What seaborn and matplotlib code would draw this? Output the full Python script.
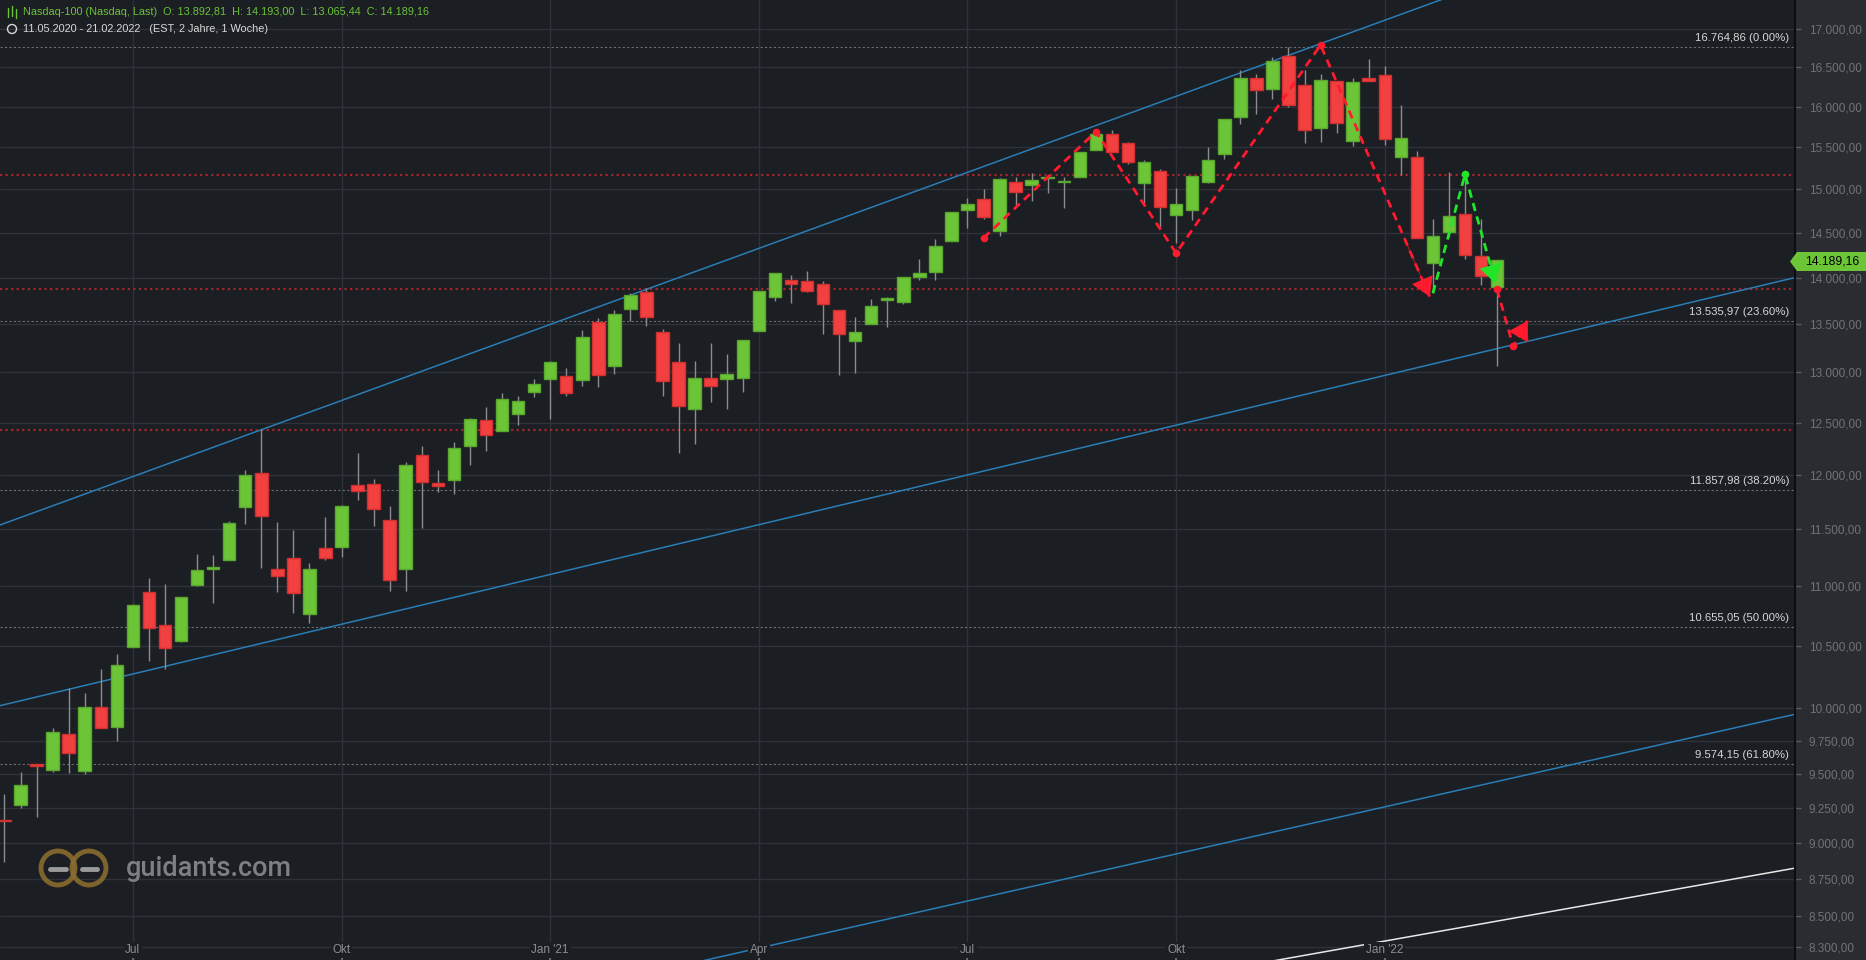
import numpy as np
import pandas as pd
import seaborn as sns
import matplotlib.pyplot as plt
from matplotlib.ticker import FixedLocator, FuncFormatter, NullLocator
from matplotlib.patches import Polygon, Ellipse
from matplotlib.lines import Line2D
import matplotlib.transforms as mtransforms

# weekly Nasdaq-100 candles, 11.05.2020 - 21.02.2022
opens = [9165, 9273, 9571, 9527, 9801, 9519, 10007, 9851, 10488, 10948,
         10668, 10542, 11013, 11150, 11231, 11698, 12014, 11145, 11248, 10767,
         11329, 11344, 11902, 11911, 11581, 11150, 12192, 11920, 11954, 12273,
         12522, 12421, 12587, 12804, 12936, 12960, 12920, 13519, 13068, 13662,
         13838, 13413, 13103, 12630, 12940, 12936, 12946, 13430, 13790, 13969,
         13958, 13926, 13646, 13326, 13504, 13757, 13736, 14002, 14057, 14401,
         14753, 14882, 14515, 15088, 15046, 15135, 15084, 15139, 15462, 15656,
         15547, 15069, 15210, 14706, 14764, 15088, 15414, 15874, 16357, 16223,
         16640, 16267, 15736, 16318, 15572, 16357, 16396, 15377, 15377, 14155,
         14504, 14717, 14232, 13892.81]
highs = [9348, 9514, 9571, 9843, 10155, 10116, 10308, 10430, 10844, 11070,
         11019, 10905, 11280, 11268, 11575, 12045, 12442, 11566, 11494, 11205,
         11610, 11718, 12204, 11961, 11709, 12120, 12270, 12045, 12307, 12545,
         12652, 12790, 12760, 12933, 13116, 13045, 13438, 13560, 13648, 13830,
         13882, 13447, 13299, 13116, 13299, 13187, 13330, 13849, 14046, 14027,
         14071, 13958, 13646, 13575, 13769, 13787, 14002, 14202, 14427, 14741,
         14897, 15002, 15128, 15143, 15190, 15170, 15147, 15438, 15656, 15709,
         15563, 15351, 15237, 15014, 15151, 15502, 15852, 16464, 16412, 16627,
         16765, 16464, 16412, 16318, 16357, 16602, 16515, 16020, 15449, 14654,
         15202, 15108, 14654, 14193.00]
lows = [8869, 9249, 9186, 9516, 9504, 9497, 9845, 9746, 10488, 10378,
        10312, 10534, 11004, 10858, 11231, 11545, 11154, 10953, 10772, 10685,
        11227, 11254, 11764, 11530, 10959, 10959, 11514, 11839, 11823, 12092,
        12223, 12421, 12480, 12753, 12535, 12760, 12862, 12852, 12983, 13533,
        13483, 12760, 12204, 12292, 12701, 12636, 12804, 13430, 13743, 13722,
        13845, 13396, 12974, 12994, 13504, 13469, 13709, 13973, 13973, 14401,
        14552, 14660, 14463, 14795, 14865, 14959, 14783, 15139, 15462, 15438,
        15302, 14842, 14569, 14386, 14643, 15076, 15353, 15779, 15911, 16096,
        15999, 15554, 15567, 15670, 15518, 16318, 15530, 15170, 14435, 13827,
        14454, 14199, 13916, 13065.44]
closes = [9153, 9415, 9556, 9816, 9658, 10007, 9845, 10340, 10836, 10644,
          10480, 10905, 11137, 11162, 11554, 11995, 11617, 11088, 10939, 11145,
          11249, 11707, 11846, 11685, 11051, 12089, 11935, 11898, 12258, 12532,
          12376, 12737, 12708, 12887, 13103, 12794, 13361, 12977, 13603, 13805,
          13578, 12910, 12665, 12940, 12866, 12981, 13330, 13849, 14046, 13932,
          13856, 13712, 13391, 13413, 13688, 13776, 14002, 14046, 14345, 14730,
          14825, 14682, 15116, 14964, 15104, 15147, 15096, 15438, 15656, 15438,
          15328, 15328, 14788, 14823, 15151, 15351, 15852, 16357, 16204, 16576,
          16016, 15705, 16331, 15796, 16305, 16318, 15597, 15609, 14435, 14458,
          14694, 14254, 14013, 14189.16]

price_ticks = [8300, 8500, 8750, 9000, 9250, 9500, 9750, 10000, 10500, 11000,
               11500, 12000, 12500, 13000, 13500, 14000, 14500, 15000, 15500,
               16000, 16500, 17000]
month_labels = ['Jul', 'Okt', "Jan '21", 'Apr', 'Jul', 'Okt', "Jan '22"]

fib_levels = [16764.86, 13535.97, 11857.98, 10655.05, 9574.15]
fib_pcts = ['0.00%', '23.60%', '38.20%', '50.00%', '61.80%']
red_levels = [15168, 13872, 12425]

# drawn tools: (candle index, price)
upper_x, upper_y = [-1, 112], [11501, 19277]
lower_x, lower_y = [-1, 112], [9998, 14018]
lower2_x, lower2_y = [40, 112], [8128, 9965]
white_x, white_y = [78, 112], [8189, 8834]
zig1_x, zig1_y = [61.0, 68.0, 73.0, 82.0, 88.8], [14439, 15690, 14270, 16789, 13792]
zig2_x, zig2_y = [89.0, 91.0, 92.9], [13830, 15175, 13937]
zig3_x, zig3_y = [93.0, 94.0, 94.9], [13870, 13268, 13535]

W, H = 1866, 960
BG = '#1b1e23'
AXIS_BG = '#2a2c31'
GREEN = '#6cc437'
RED = '#f23f3f'


def de_fmt(v, pos=None):
    return f"{v:,.2f}".replace(',', 'X').replace('.', ',').replace('X', '.')


sns.set_theme(style='dark')
plt.rcParams['font.family'] = ['Liberation Sans', 'DejaVu Sans']

fig = plt.figure(figsize=(W / 100, H / 100), dpi=100, facecolor=AXIS_BG)
ax = fig.add_axes([0, 0, 1795 / W, 1])
ax.set_facecolor(BG)
ax.set_yscale('log')

n = len(closes)
x = np.arange(n)
o = np.array(opens, dtype=float)
c = np.array(closes, dtype=float)
lo = np.minimum(o, c)
hi = np.maximum(o, c)
up = c >= o

ax.vlines(x, lows, highs, color='#8c8c8c', lw=1, zorder=3)
ax.bar(x[up], (hi - lo)[up], bottom=lo[up], width=0.78, color=GREEN,
       edgecolor='#5aa62e', lw=1, zorder=4)
ax.bar(x[~up], (hi - lo)[~up], bottom=lo[~up], width=0.78, color=RED,
       edgecolor='#d13030', lw=1, zorder=4)

# horizontal levels
for lvl in red_levels:
    ax.axhline(lvl, color='#a3262a', ls=(0, (1, 1.5)), lw=1.6, zorder=2)
for lvl, pct in zip(fib_levels, fib_pcts):
    ax.axhline(lvl, color='#6a6c70', ls=(0, (2, 2)), lw=0.8, zorder=2)
    ax.annotate(f"{de_fmt(lvl)} ({pct})", xy=(0.9967, lvl),
                xycoords=('axes fraction', 'data'), xytext=(0, 3),
                textcoords='offset points', ha='right', va='bottom',
                color='#d6d6d6', fontsize=8.2, zorder=6)

# trend channel
for tx, ty, col in [(upper_x, upper_y, '#2a7db5'), (lower_x, lower_y, '#2a7db5'),
                    (lower2_x, lower2_y, '#2a7db5'), (white_x, white_y, '#e8e8e8')]:
    sns.lineplot(x=tx, y=ty, ax=ax, color=col, lw=1.1, sort=False, zorder=2)

# zigzag projections
for zx, zy, col, dots in [(zig1_x, zig1_y, '#ff1a2e', 4), (zig2_x, zig2_y, '#22e52a', 0),
                          (zig3_x, zig3_y, '#ff1a2e', 2)]:
    sns.lineplot(x=zx, y=zy, ax=ax, color=col, lw=2, sort=False, zorder=7,
                 dashes=False, linestyle=(0, (3, 2)))
    if dots:
        ax.scatter(zx[:dots], zy[:dots], s=30, color=col, zorder=8, lw=0)
    else:
        ax.scatter(zx[1:2], zy[1:2], s=30, color=col, zorder=8, lw=0)
    xe, ye = zx[-1], zy[-1]
    xb = xe - 0.2 * (xe - zx[-2])
    yb = ye * (zy[-2] / ye) ** 0.2
    ax.annotate('', xy=(xe, ye), xytext=(xb, yb),
                arrowprops=dict(arrowstyle='-|>,head_length=0.9,head_width=0.55',
                                color=col, lw=0.5, mutation_scale=14,
                                shrinkA=0, shrinkB=0), zorder=8)

# axes, grid and ticks
ax.set_xlim(-0.28, 111.56)
ax.set_ylim(8214, 17390)
dates = pd.date_range('2020-05-11', periods=n, freq='W-MON')
month_pos = [i for i, d in enumerate(dates) if d.month in (1, 4, 7, 10) and d.day <= 7]
ax.set_xticks(month_pos)
ax.set_xticklabels([])
ax.yaxis.set_major_locator(FixedLocator(price_ticks))
ax.yaxis.set_minor_locator(NullLocator())
ax.yaxis.set_major_formatter(FuncFormatter(de_fmt))
ax.yaxis.tick_right()
ax.tick_params(axis='y', colors='#55585e', labelcolor='#6f7278', length=4,
               width=1, pad=6, labelsize=8.5, right=True)
ax.tick_params(axis='x', direction='in', length=4, colors='#6f7278', bottom=True)
ax.grid(True, color='#2f3238', lw=1)
ax.set_axisbelow(True)
ax.set_xlabel('')
ax.set_ylabel('')
for side in ['top', 'left', 'bottom']:
    ax.spines[side].set_visible(False)
ax.spines['right'].set_color('#0c0d0f')
ax.spines['right'].set_linewidth(1.5)

for pos, lab in zip(month_pos, month_labels):
    ax.text(pos, 10 / H, lab, transform=mtransforms.blended_transform_factory(ax.transData, ax.transAxes),
            ha='center', va='center', fontsize=8.5, color='#8b8e93', zorder=9,
            bbox=dict(boxstyle='square,pad=0.15', fc=BG, ec='none'))

# last price badge
badge = Polygon([(1790 / W, 1 - 261.5 / H), (1797 / W, 1 - 252 / H), (1866 / W, 1 - 252 / H),
                 (1866 / W, 1 - 271 / H), (1797 / W, 1 - 271 / H)], closed=True,
                transform=fig.transFigure, fc=GREEN, ec='none', zorder=10)
fig.add_artist(badge)
fig.text(1832 / W, 1 - 261.5 / H, de_fmt(closes[-1]), ha='center', va='center',
         fontsize=8.8, color='#000000', zorder=11)

# header
fig.text(23 / W, 1 - 12 / H,
         'Nasdaq-100 (Nasdaq, Last)  O: 13.892,81  H: 14.193,00  L: 13.065,44  C: 14.189,16',
         color=GREEN, fontsize=7.85, va='center')
fig.text(23 / W, 1 - 29 / H, '11.05.2020 - 21.02.2022   (EST, 2 Jahre, 1 Woche)',
         color='#d8d8d8', fontsize=7.85, va='center')
for px, y0, y1 in [(8, 8, 17), (12, 6, 16), (16, 9, 18)]:
    fig.add_artist(Line2D([px / W, px / W], [1 - y0 / H, 1 - y1 / H], color=GREEN, lw=1,
                          transform=fig.transFigure))
fig.add_artist(Ellipse((12 / W, 1 - 29 / H), 9 / W, 9 / H, fill=False, ec='#d8d8d8', lw=1,
                       transform=fig.transFigure))

# watermark
for cx in [58, 89]:
    fig.add_artist(Ellipse((cx / W, 1 - 868 / H), 34 / W, 34 / H, fill=False, ec='#8a6c2e',
                           lw=3.5, transform=fig.transFigure, alpha=0.9))
for x0, x1 in [(50, 66), (82, 97)]:
    fig.add_artist(Line2D([x0 / W, x1 / W], [1 - 869 / H, 1 - 869 / H], color='#9a9a9a',
                          lw=3.5, transform=fig.transFigure))
fig.text(126 / W, 1 - 869 / H, 'guidants.com', fontsize=19.5, family=['Roboto', 'DejaVu Sans'],
         fontweight='medium', color='#7d7f83', va='center')

fig.savefig('out.png', dpi=100, facecolor=AXIS_BG)
